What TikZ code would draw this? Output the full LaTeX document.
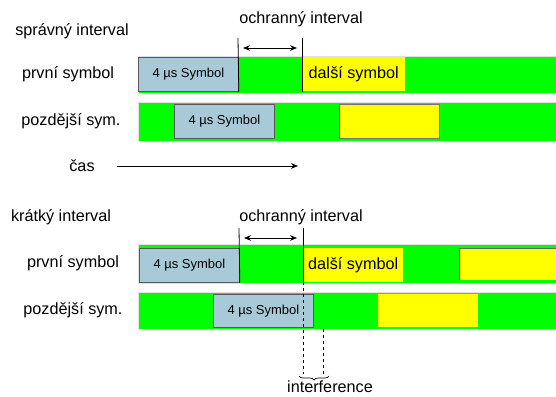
\documentclass[tikz,border=0pt]{standalone}
\usepackage{fontspec}
\setmainfont{Liberation Sans}
\usepackage{xcolor}
\usetikzlibrary{decorations.pathreplacing,arrows.meta}

\definecolor{guardgreen}{RGB}{0,255,0}
\definecolor{symblue}{RGB}{168,202,216}
\definecolor{nextyellow}{RGB}{255,255,0}

\tikzset{
	lbl/.style={font=\fontsize{16.2}{18}\selectfont, inner sep=0pt},
	bar/.style={fill=guardgreen, draw=black!12, line width=0.6pt},
	symbox/.style={draw=black!65, fill=symblue, line width=0.8pt, inner sep=0pt,
		minimum width=100, minimum height=34, anchor=north west,
		font=\fontsize{13}{15}\selectfont},
	nextbox/.style={fill=nextyellow, inner sep=0pt, minimum width=100,
		minimum height=34, anchor=north west, font=\fontsize{16.2}{18}\selectfont},
	guard/.style={{Stealth[length=7pt,width=5.5pt]}-{Stealth[length=7pt,width=5.5pt]}, line width=0.6pt},
	edge/.style={line width=0.8pt},
}

\begin{document}
\begin{tikzpicture}[x=1pt, y=-1pt]
	\useasboundingbox (0,0) rectangle (556,396);
	% správný interval
	\node[lbl] (tit1) at (72,31) {správný interval};
	\node[lbl] (och1) at (301,19) {ochranný interval};
	\node[lbl] (prv1) at (68,74) {první symbol};
	\node[lbl] (poz1) at (71,121) {pozdější sym.};
	\filldraw[bar] (138,56) rectangle (557,93);
	\node[symbox] (sym1) at (138,57) {4 µs Symbol};
	\node[nextbox, minimum width=103] (dal1) at (302,57) {další symbol};
	\filldraw[bar] (138,102) rectangle (557,141);
	\node[symbox] (sym2) at (174,104) {4 µs Symbol};
	\node[nextbox, draw=black!55, line width=0.6pt] (dal2) at (339,104) {};
	\coordinate (ga1) at (238,38);
	\coordinate (gb1) at (302,38);
	\draw[edge] (ga1) -- (sym1.south east);
	\draw[edge] (gb1) -- (gb1 |- sym1.south);
	\coordinate (ar1) at (243,48);
	\coordinate (as1) at (297,48);
	\draw[guard] (ar1) -- (as1);
	\node[lbl] (cas) at (82,166) {čas};
	\coordinate (ct1) at (117,166);
	\coordinate (ct2) at (298,166);
	\draw[-{Stealth[length=7pt,width=5.5pt]}, line width=0.6pt] (ct1) -- (ct2);

	% krátký interval
	\node[lbl] (tit2) at (61,217) {krátký interval};
	\node[lbl] (och2) at (301,217) {ochranný interval};
	\node[lbl] (prv2) at (73,263) {první symbol};
	\node[lbl] (poz2) at (73,310) {pozdější sym.};
	\filldraw[bar] (138,244) rectangle (557,283);
	\node[symbox] (sym3) at (139,248) {4 µs Symbol};
	\node[nextbox] (dal3) at (303,248) {další symbol};
	\fill[nextyellow] (459,248) rectangle (557,280);
	\draw[black!60, line width=0.8pt] (557,248) -- (459,248) -- (459,280);
	\filldraw[bar] (138,292) rectangle (557,329);
	\node[symbox, minimum height=33] (sym4) at (213,294) {4 µs Symbol};
	\node[nextbox, minimum height=33] (dal4) at (378,294) {};
	\coordinate (ga2) at (239,228);
	\coordinate (gb2) at (303,228);
	\coordinate (gc2) at (303,282);
	\coordinate (gd2) at (303,374);
	\coordinate (ge2) at (323,329);
	\coordinate (gf2) at (323,374);
	\draw[edge] (ga2) -- (sym3.south east);
	\draw[edge] (gb2) -- (gc2);
	\draw[edge, dashed] (gc2) -- (gd2);
	\draw[edge, dashed] (ge2) -- (gf2);
	\coordinate (ar2) at (244,238);
	\coordinate (as2) at (297,238);
	\draw[guard] (ar2) -- (as2);
	\coordinate (bl) at (299,376);
	\coordinate (br) at (329,376);
	\draw[decorate, decoration={brace, amplitude=4pt, mirror}, line width=0.7pt]
		(bl) -- (br);
	\node[lbl] (intf) at (330,387) {interference};
\end{tikzpicture}
\end{document}
